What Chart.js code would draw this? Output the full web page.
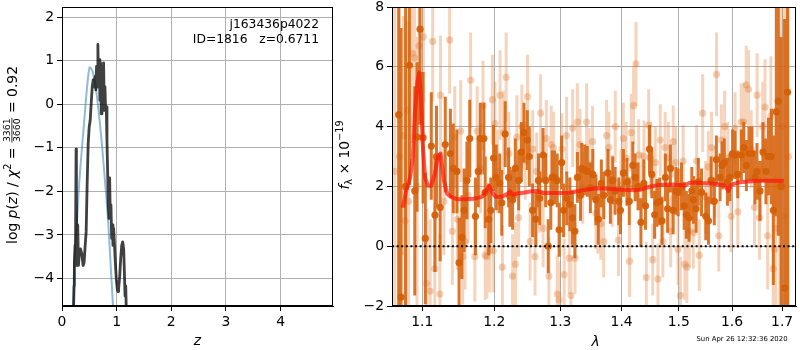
<!DOCTYPE html>
<html><head><meta charset="utf-8">
<script src="https://cdn.jsdelivr.net/npm/chart.js@4/dist/chart.umd.min.js"></script>
<style>
html,body{margin:0;padding:0;background:#fff;}
#wrap{position:relative;width:800px;height:350px;overflow:hidden;background:#fff;}
#c1{position:absolute;left:0;top:0;width:340px;height:350px;}
#c2{position:absolute;left:330px;top:0;width:470px;height:350px;}
</style></head><body>
<div id="wrap"><canvas id="c1" width="340" height="350"></canvas><canvas id="c2" width="470" height="350"></canvas></div>
<script>
// ---------- Left panel: p(z) ----------
const zTicks = [0, 1, 2, 3, 4];
const logpTicks = [-4, -3, -2, -1, 0, 1, 2];
const priorZ = [0.205,0.221,0.245,0.270,0.300,0.331,0.362,0.393,0.420,0.442,0.465,0.485,0.503,0.530,0.559,0.585,0.608,0.640,0.669,0.700,0.730,0.760,0.792,0.815,0.841,0.862,0.884,0.905,0.927,0.950];
const priorLogP = [-4.8,-3.70,-3.2,-2.77,-2.1,-1.53,-1.05,-0.60,-0.18,0.17,0.47,0.71,0.84,0.83,0.76,0.62,0.48,0.18,-0.14,-0.52,-0.91,-1.36,-1.84,-2.2,-2.62,-3.05,-3.55,-4.0,-4.48,-4.94];
const pzZ = [0.209,0.221,0.227,0.239,0.245,0.258,0.264,0.276,0.288,0.301,0.319,0.338,0.362,0.387,0.405,0.424,0.442,0.460,0.479,0.497,0.516,0.534,0.553,0.571,0.589,0.608,0.620,0.632,0.645,0.657,0.669,0.681,0.694,0.706,0.718,0.731,0.743,0.761,0.774,0.786,0.798,0.810,0.823,0.835,0.847,0.860,0.872,0.884,0.896,0.909,0.921,0.933,0.945,0.958,0.976,0.994,1.013,1.025,1.037,1.056,1.074,1.093,1.111,1.129,1.142,1.154,1.166,1.178];
const pzLogP = [-4.79,-4.17,-3.63,-3.24,-3.70,-1.03,-2.15,-3.70,-2.77,-3.70,-3.40,-3.32,-3.43,-3.70,-3.63,-3.24,-2.93,-1.85,-0.91,-0.53,-0.37,0.01,0.40,0.56,0.40,0.64,0.33,0.87,0.40,1.37,0.40,1.02,0.09,0.95,-0.22,0.87,0.17,0.95,-0.14,0.40,-0.14,-0.06,-0.84,-1.53,-2.31,-2.62,-1.69,-2.62,-2.31,-3.08,-2.77,-3.24,-2.85,-3.16,-3.63,-4.02,-4.25,-4.30,-4.22,-3.95,-3.55,-3.24,-3.16,-3.32,-3.86,-4.40,-4.17,-4.79];
const zMin = 0, zMax = 4.96, logpMin = -4.63, logpMax = 2.23;

// ---------- Right panel: spectrum ----------
const lamTicks = [1.1, 1.2, 1.3, 1.4, 1.5, 1.6, 1.7];
const fluxTicks = [-2, 0, 2, 4, 6, 8];
const lamMin = 1.0604, lamMax = 1.7287, fluxMin = -2, fluxMax = 8;

const darkLam = [1.069,1.072,1.078,1.083,1.090,1.093,1.097,1.101,1.104,1.112,1.117,1.119,1.124,1.131,1.138,1.142,1.147,1.150,1.154,1.157,1.161,1.165,1.173,1.177,1.180,1.185,1.187,1.192,1.195,1.199,1.203,1.208,1.211,1.216,1.221,1.223,1.227,1.231,1.236,1.240,1.244,1.249,1.252,1.257,1.262,1.266,1.268,1.273,1.277,1.281,1.285,1.287,1.291,1.295,1.298,1.302,1.305,1.310,1.315,1.319,1.323,1.327,1.332,1.334,1.339,1.343,1.348,1.352,1.357,1.361,1.366,1.370,1.377,1.381,1.385,1.389,1.395,1.398,1.403,1.409,1.413,1.419,1.423,1.428,1.433,1.438,1.441,1.448,1.452,1.457,1.461,1.466,1.470,1.476,1.480,1.485,1.490,1.495,1.499,1.505,1.510,1.514,1.519,1.524,1.527,1.532,1.536,1.542,1.550,1.555,1.560,1.566,1.570,1.577,1.581,1.585,1.591,1.596,1.601,1.606,1.611,1.618,1.623,1.628,1.633,1.639,1.645,1.649,1.655,1.661,1.667,1.672,1.678,1.682,1.688,1.692,1.698,1.705,1.711];
const darkFlux = [4.4,-1.7,2.0,6.05,1.85,3.65,7.26,3.63,0.26,3.35,1.04,3.0,1.3,3.4,3.1,2.6,2.5,-0.55,0.3,1.2,2.2,3.6,1.0,2.5,3.6,3.6,1.8,0.9,1.2,2.95,2.3,2.1,1.45,3.75,2.3,1.65,1.55,2.6,2.2,3.15,3.8,3.55,3.0,1.2,0.9,2.2,1.6,3.05,2.2,0.0,1.45,2.3,2.3,2.2,0.55,2.8,1.2,1.6,1.4,0.95,0.5,2.3,1.7,2.6,2.55,2.5,1.95,2.4,1.55,0.9,2.1,1.7,2.45,1.55,2.2,1.85,1.5,1.2,2.45,2.15,1.5,2.7,2.3,2.0,0.8,2.1,1.35,3.25,2.4,1.05,1.45,1.5,0.85,2.3,1.25,2.6,1.2,1.85,1.8,2.0,1.35,1.05,0.95,1.85,1.55,1.25,2.15,1.8,1.0,0.85,2.2,1.5,2.9,2.3,2.7,2.8,2.15,2.3,3.1,3.05,2.4,3.05,3.3,2.7,3.1,3.1,2.3,2.5,1.85,3.15,2.5,3.0,3.0,1.2,4.5,4.85,2.0,-1.4,5.15];
const darkErr = [7,9,6,4,3.5,2.5,3.2,2.2,2.2,1.8,1.9,1.7,1.8,1.6,1.5,1.5,1.4,1.5,1.4,1.4,1.3,1.3,1.3,1.2,1.2,1.2,1.2,1.2,1.1,1.1,1.1,1.0,1.1,1.1,1.0,1.0,1.0,1.0,1.0,1.0,1.0,1.0,1.0,0.9,0.9,0.9,0.9,0.9,0.9,0.9,0.9,0.9,0.9,0.9,0.9,0.9,0.9,0.9,0.9,0.9,0.9,0.85,0.85,0.85,0.85,0.85,0.85,0.85,0.85,0.85,0.8,0.8,0.8,0.8,0.8,0.8,0.8,0.8,0.8,0.8,0.8,0.8,0.8,0.8,0.8,0.8,0.8,0.8,0.8,0.8,0.8,0.8,0.8,0.8,0.8,0.8,0.8,0.8,0.8,0.8,0.8,0.8,0.8,0.8,0.8,0.8,0.8,0.8,0.8,0.8,0.8,0.8,0.8,0.8,0.8,0.8,0.8,0.8,0.8,0.8,0.8,0.85,0.85,0.85,0.9,0.9,0.9,0.95,1.0,1.0,1.1,1.3,1.6,2.5,3.5,4.5,5,9,9];

const lightLam = [1.0640,1.0700,1.0752,1.0774,1.0796,1.0820,1.0870,1.0896,1.0930,1.0957,1.1014,1.1060,1.1106,1.1139,1.1167,1.1236,1.1245,1.1292,1.1370,1.1407,1.1440,1.1477,1.1523,1.1551,1.1583,1.1625,1.1662,1.1722,1.1755,1.1801,1.1838,1.1870,1.1894,1.1931,1.1972,1.1986,1.2010,1.2050,1.2085,1.2119,1.2134,1.2174,1.2214,1.2269,1.2313,1.2333,1.2358,1.2408,1.2458,1.2493,1.2532,1.2572,1.2607,1.2632,1.2672,1.2692,1.2731,1.2781,1.2821,1.2856,1.2891,1.2950,1.2980,1.3022,1.3059,1.3097,1.3140,1.3167,1.3194,1.3231,1.3269,1.3312,1.3355,1.3419,1.3462,1.3516,1.3570,1.3602,1.3651,1.3699,1.3747,1.3785,1.3839,1.3892,1.3946,1.3989,1.4029,1.4076,1.4134,1.4163,1.4203,1.4244,1.4291,1.4349,1.4384,1.4424,1.4465,1.4494,1.4535,1.4581,1.4628,1.4669,1.4715,1.4756,1.4814,1.4855,1.4901,1.4942,1.4988,1.5031,1.5081,1.5112,1.5149,1.5193,1.5267,1.5329,1.5379,1.5441,1.5497,1.5547,1.5609,1.5671,1.5702,1.5745,1.5795,1.5857,1.5919,1.5981,1.6059,1.6112,1.6178,1.6224,1.6276,1.6322,1.6375,1.6441,1.6493,1.6539,1.6605,1.6651,1.6704,1.6770,1.6816,1.6849,1.6868,1.6950,1.7000,1.7060,1.7130];
const lightFlux = [2.5,3.0,3.7,0.85,4.55,1.5,6.45,6.3,2.0,6.7,7.0,-1.25,-1.5,6.85,-0.75,-1.6,5.05,1.5,6.9,0.5,3.65,0.9,3.85,-0.35,0.15,1.7,5.55,-0.35,3.85,2.6,4.7,-0.3,-0.35,-0.15,4.9,-0.15,4.1,2.5,5.05,-0.7,3.8,5.65,3.1,-1.0,-0.6,3.65,0.95,4.0,2.85,5.0,0.15,3.25,-0.35,2.5,1.75,4.45,0.6,3.6,-1.0,3.4,3.3,-1.6,-1.8,3.25,-0.95,3.7,-0.4,-1.65,3.95,-0.4,4.15,3.4,1.95,4.15,2.75,3.5,1.1,0.95,0.75,0.15,3.7,3.3,1.85,4.0,0.2,2.05,3.6,2.95,-0.5,3.8,4.7,6.1,3.05,1.95,3.0,-1.05,4.05,2.95,-0.45,2.8,-1.1,3.55,0.15,3.3,2.95,0.5,3.5,2.8,-0.1,-1.65,2.85,-0.6,-0.7,0.5,0.45,2.85,-0.3,4.45,1.65,2.65,3.3,2.15,5.75,0.35,3.55,4.0,2.95,1.0,3.95,1.15,4.15,4.15,5.4,5.25,3.25,1.3,5.05,0.95,4.0,4.65,0.35,4.35,-0.75,-0.1,0.6,2.0,4.0,1.0,3.0];
const lightErr = [8,7,4.0,3.5,3.0,6,3.0,2.5,5,2.5,2.2,2.5,2.4,2.0,2.2,2.0,2.0,1.8,1.8,1.8,1.7,1.7,1.7,1.6,1.6,1.6,1.6,1.5,1.5,1.5,1.5,1.5,1.4,1.4,1.5,1.4,1.4,1.4,1.5,1.4,1.4,1.5,1.4,1.4,1.4,1.4,1.3,1.4,1.3,1.4,1.3,1.3,1.3,1.3,1.3,1.3,1.3,1.3,1.3,1.3,1.2,1.3,1.3,1.2,1.2,1.3,1.2,1.3,1.3,1.2,1.3,1.2,1.2,1.3,1.2,1.2,1.2,1.2,1.2,1.2,1.2,1.2,1.2,1.2,1.2,1.2,1.2,1.2,1.2,1.3,1.3,1.4,1.2,1.2,1.2,1.2,1.2,1.2,1.2,1.2,1.2,1.2,1.2,1.2,1.2,1.2,1.2,1.2,1.2,1.3,1.2,1.2,1.2,1.2,1.2,1.2,1.2,1.3,1.2,1.2,1.2,1.2,1.4,1.2,1.2,1.2,1.2,1.2,1.2,1.2,1.3,1.3,1.3,1.3,1.3,1.3,1.4,1.4,1.5,1.6,1.8,2.0,2.5,3.0,4.0,7,7,9,9];

const modelLam = [1.0744,1.0787,1.0839,1.0874,1.0904,1.0935,1.0961,1.0985,1.1005,1.1037,1.1074,1.1120,1.1167,1.1208,1.1245,1.1292,1.1338,1.1407,1.1477,1.1569,1.1708,1.1824,1.1884,1.1926,1.1972,1.2020,1.2109,1.2184,1.2234,1.2274,1.2333,1.2433,1.2532,1.2632,1.2731,1.2930,1.3140,1.3355,1.3570,1.3785,1.4000,1.4233,1.4320,1.4465,1.4640,1.4872,1.5112,1.5174,1.5236,1.5422,1.5609,1.5826,1.5888,1.5932,1.5981,1.6112,1.6309,1.6572,1.7033];
const modelFlux = [1.29,1.85,2.30,2.97,4.54,5.5,5.8,4.8,3.42,2.30,2.02,2.02,2.41,2.97,3.10,2.19,1.74,1.63,1.57,1.57,1.59,1.65,1.85,2.02,1.79,1.65,1.65,1.74,1.83,1.72,1.76,1.79,1.83,1.85,1.78,1.78,1.79,1.87,1.94,1.92,1.89,1.87,1.89,1.98,2.05,2.06,2.03,2.10,2.13,2.11,2.10,2.05,1.96,1.85,2.05,2.13,2.16,2.19,2.19];

// ---------- helpers ----------
const FAM = '"DejaVu Sans", sans-serif';
const FS = 13.9;
const fmtMinus = v => (v < 0 ? '\u2212' : '') + Math.abs(v);
function pts(xs, ys) { return xs.map((x, i) => ({x: x, y: ys[i]})); }
function errSegs(xs, ys, es) {
  const out = [];
  xs.forEach((x, i) => { out.push({x: x, y: ys[i] - es[i]}); out.push({x: x, y: ys[i] + es[i]}); out.push({x: x, y: null}); });
  return out;
}
function fixedTicks(list) { return scale => { scale.ticks = list.map(v => ({value: v})); }; }

function richText(ctx, parts, cx, cy, rotate) {
  ctx.save();
  ctx.translate(cx, cy);
  if (rotate) ctx.rotate(-Math.PI / 2);
  ctx.fillStyle = '#000';
  ctx.textBaseline = 'alphabetic';
  ctx.textAlign = 'left';
  let w = 0;
  parts.forEach(p => {
    ctx.font = p.f;
    p.w = p.frac ? Math.max(ctx.measureText(p.frac[0]).width, ctx.measureText(p.frac[1]).width) + 2 : ctx.measureText(p.t).width;
    w += p.w;
  });
  let x = -w / 2;
  parts.forEach(p => {
    ctx.font = p.f;
    if (p.frac) {
      const bar = -4.6;
      ctx.textAlign = 'center';
      ctx.fillText(p.frac[0], x + p.w / 2, bar - 1.6);
      ctx.fillText(p.frac[1], x + p.w / 2, bar + 8.2);
      ctx.fillRect(x + 0.5, bar - 0.4, p.w - 1, 0.8);
      ctx.textAlign = 'left';
    } else {
      ctx.fillText(p.t, x, p.dy || 0);
    }
    x += p.w;
  });
  ctx.restore();
}
function spines(chart) {
  const a = chart.chartArea, ctx = chart.ctx;
  ctx.save();
  ctx.strokeStyle = '#000';
  ctx.lineWidth = 1;
  ctx.strokeRect(Math.round(a.left) + 0.5, Math.round(a.top) + 0.5, Math.round(a.right - a.left) - 1, Math.round(a.bottom - a.top) - 1);
  ctx.restore();
}

const N = FS + 'px ' + FAM, I = 'italic ' + FS + 'px ' + FAM, SM = '9.7px ' + FAM;

const leftDecor = {
  id: 'leftDecor',
  afterDraw(chart) {
    spines(chart);
    const ctx = chart.ctx;
    richText(ctx, [
      {t: 'log ', f: N}, {t: 'p', f: I}, {t: '(', f: N}, {t: 'z', f: I}, {t: ') / ', f: N},
      {t: '\u03C7', f: I}, {t: '2', f: SM, dy: -5.8}, {t: ' = ', f: N},
      {frac: ['3361', '3660'], f: '9.3px ' + FAM}, {t: ' = 0.92', f: N}
    ], 16.5, 155, true);
    richText(ctx, [{t: 'z', f: I}], 197.5, 345, false);
    ctx.save();
    ctx.fillStyle = '#000';
    ctx.font = '12.3px ' + FAM;
    ctx.textAlign = 'right';
    ctx.textBaseline = 'middle';
    ctx.fillText('j163436p4022', 319, 25);
    ctx.fillText('ID=1816   z=0.6711', 319, 40);
    ctx.restore();
  }
};
const rightDecor = {
  id: 'rightDecor',
  afterDraw(chart) {
    spines(chart);
    const ctx = chart.ctx;
    richText(ctx, [
      {t: 'f', f: I}, {t: '\u03BB', f: SM, dy: 3.2}, {t: ' \u00D7 10', f: N}, {t: '\u221219', f: SM, dy: -6}
    ], 19, 155, true);
    richText(ctx, [{t: '\u03BB', f: I}], 265.5, 346, false);
    ctx.save();
    ctx.fillStyle = '#000';
    ctx.font = '6.9px ' + FAM;
    ctx.textAlign = 'center';
    ctx.textBaseline = 'middle';
    ctx.fillText('Sun Apr 26 12:32:36 2020', 412, 339);
    ctx.restore();
  }
};

function axisCommon(tickList, extra) {
  return Object.assign({
    afterBuildTicks: fixedTicks(tickList),
    grid: {color: '#b0b0b0', lineWidth: 1, tickColor: '#000', tickLength: 5, drawTicks: true},
    border: {display: true, color: '#000', width: 1},
    ticks: {color: '#000', font: {family: FAM, size: FS}, autoSkip: false, maxRotation: 0, padding: 3, callback: v => fmtMinus(v)}
  }, extra);
}

Chart.defaults.font.family = FAM;

new Chart(document.getElementById('c1'), {
  type: 'scatter',
  data: {
    datasets: [
      {data: pts(pzZ, pzLogP), showLine: true, borderColor: 'rgba(0,0,0,0.75)', borderWidth: 2.8, pointRadius: 0, clip: 0, borderJoinStyle: 'round'},
      {data: pts(priorZ, priorLogP), showLine: true, borderColor: 'rgba(31,119,180,0.5)', borderWidth: 2, pointRadius: 0, clip: 0}
    ]
  },
  options: {
    responsive: false, animation: false, events: [],
    layout: {padding: {left: 0, right: 7, top: 7, bottom: 0}},
    plugins: {legend: {display: false}, tooltip: {enabled: false}},
    scales: {
      x: axisCommon(zTicks, {type: 'linear', min: zMin, max: zMax,
        afterFit: s => { s.height = 44; s.paddingLeft = 0; s.paddingRight = 0; }}),
      y: axisCommon(logpTicks, {type: 'linear', min: logpMin, max: logpMax,
        afterFit: s => { s.width = 62; s.paddingTop = 0; s.paddingBottom = 0; }})
    }
  },
  plugins: [leftDecor]
});

new Chart(document.getElementById('c2'), {
  type: 'scatter',
  data: {
    datasets: [
      {data: pts([lamMin, lamMax], [0, 0]), showLine: true, borderColor: '#000', borderWidth: 2, borderDash: [2, 2.6], pointRadius: 0, clip: 0},
      {data: pts(modelLam, modelFlux), showLine: true, borderColor: 'rgba(255,20,10,0.7)', borderWidth: 4, pointRadius: 0, clip: 0, borderJoinStyle: 'round'},
      {data: pts(darkLam, darkFlux), pointRadius: 3.6, pointBackgroundColor: 'rgba(213,96,10,0.95)', pointBorderWidth: 0, clip: 0},
      {data: errSegs(darkLam, darkFlux, darkErr), showLine: true, borderColor: 'rgba(214,98,12,0.88)', borderWidth: 3, pointRadius: 0, clip: 0, spanGaps: false},
      {data: pts(lightLam, lightFlux), pointRadius: 3.6, pointBackgroundColor: 'rgba(222,120,50,0.35)', pointBorderWidth: 0, clip: 0},
      {data: errSegs(lightLam, lightFlux, lightErr), showLine: true, borderColor: 'rgba(225,128,55,0.34)', borderWidth: 3, pointRadius: 0, clip: 0, spanGaps: false}
    ]
  },
  options: {
    responsive: false, animation: false, events: [],
    layout: {padding: {left: 0, right: 1, top: 7, bottom: 0}},
    plugins: {legend: {display: false}, tooltip: {enabled: false}},
    scales: {
      x: axisCommon(lamTicks, {type: 'logarithmic', min: lamMin, max: lamMax,
        ticks: {color: '#000', font: {family: FAM, size: FS}, autoSkip: false, maxRotation: 0, padding: 3, callback: v => Number(v).toFixed(1)},
        afterFit: s => { s.height = 44; s.paddingLeft = 0; s.paddingRight = 0; }}),
      y: axisCommon(fluxTicks, {type: 'linear', min: fluxMin, max: fluxMax,
        afterFit: s => { s.width = 62; s.paddingTop = 0; s.paddingBottom = 0; }})
    }
  },
  plugins: [rightDecor]
});
</script>
</body></html>
